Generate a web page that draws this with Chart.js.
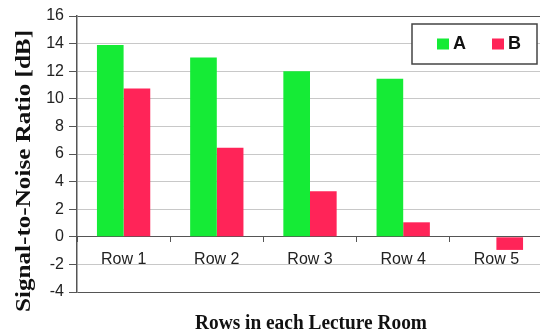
<!DOCTYPE html>
<html>
<head>
<meta charset="utf-8">
<script src="https://cdn.jsdelivr.net/npm/chart.js@4.4.1/dist/chart.umd.min.js"></script>
<style>
html, body { margin: 0; padding: 0; background: #fff; overflow: hidden; }
#wrap { width: 546px; height: 331px; }
</style>
</head>
<body>
<div id="wrap"><canvas id="snrChart" width="546" height="331"></canvas></div>
<script>
// values
var rows = ["Row 1", "Row 2", "Row 3", "Row 4", "Row 5"];
var seriesNames = ["A", "B"];
var valuesA = [13.9, 13.0, 12.0, 11.45, null];
var valuesB = [10.75, 6.45, 3.3, 1.05, -0.95];
var yMin = -4, yMax = 16, yStep = 2;

var xTitle = "Rows in each Lecture Room";
var yTitle = "Signal-to-Noise Ratio [dB]";

var darkLine = '#555555';
var lightLine = '#c8c8c8';

// draw text centred at (x, y) and squeezed/stretched to a given width
function fitText(c, text, x, y, w) {
    var s = w / c.measureText(text).width;
    c.save();
    c.translate(x, y);
    c.scale(s, 1);
    c.fillText(text, 0, 0);
    c.restore();
}

// titles + boxed legend drawn on top
var extras = {
    id: 'extras',
    afterDraw: function(chart) {
        var c = chart.ctx;
        c.save();
        c.fillStyle = '#111';
        c.textAlign = 'center';
        c.textBaseline = 'alphabetic';
        c.font = 'bold 21px "Liberation Serif"';
        fitText(c, xTitle, 311, 329, 232);

        c.translate(30, 171);
        c.rotate(-Math.PI / 2);
        c.font = 'bold 20px "Liberation Serif"';
        fitText(c, yTitle, 0, 0, 282);
        c.restore();

        // legend box
        c.save();
        c.fillStyle = '#fff';
        c.fillRect(412, 24, 125, 40);
        c.strokeStyle = '#444';
        c.lineWidth = 1.5;
        c.strokeRect(412, 24, 125, 40);
        c.font = 'bold 18px "Liberation Sans"';
        c.textAlign = 'left';
        c.textBaseline = 'middle';
        var xs = [437, 492];
        chart.data.datasets.forEach(function(ds, i) {
            c.fillStyle = ds.backgroundColor;
            c.fillRect(xs[i], 38.5, 12, 11);
            c.fillStyle = '#111';
            c.fillText(ds.label, xs[i] + 16, 44.5);
        });
        c.restore();
    }
};

var ctx = document.getElementById('snrChart').getContext('2d');
var chart = new Chart(ctx, {
    type: 'bar',
    data: {
        labels: rows,
        datasets: [{
            label: seriesNames[0],
            backgroundColor: '#15eb36',
            data: valuesA
        }, {
            label: seriesNames[1],
            backgroundColor: '#ff2458',
            data: valuesB
        }]
    },
    options: {
        responsive: false,
        animation: false,
        categoryPercentage: 0.572,
        barPercentage: 1.0,
        layout: {
            padding: { top: 16, bottom: 39, left: 0, right: 3 }
        },
        plugins: {
            legend: { display: false },
            tooltip: { enabled: false }
        },
        scales: {
            x: {
                position: { y: 0 },
                grid: {
                    offset: true,
                    drawOnChartArea: false,
                    drawTicks: true,
                    tickLength: 5,
                    color: darkLine
                },
                border: { color: darkLine, width: 1 },
                ticks: {
                    color: '#222',
                    padding: 8,
                    font: { family: '"Liberation Sans", Arial', size: 16 }
                }
            },
            y: {
                min: yMin,
                max: yMax,
                afterFit: function(scale) { scale.width = 77; },
                grid: {
                    color: function(c) {
                        var v = c.tick ? c.tick.value : null;
                        return (v === yMin || v === yMax || v === 0) ? darkLine : lightLine;
                    },
                    tickColor: darkLine,
                    tickLength: 8
                },
                border: { color: darkLine, width: 1.5 },
                ticks: {
                    stepSize: yStep,
                    color: '#222',
                    padding: 5,
                    font: { family: '"Liberation Sans", Arial', size: 16 }
                }
            }
        }
    },
    plugins: [extras]
});
</script>
</body>
</html>
